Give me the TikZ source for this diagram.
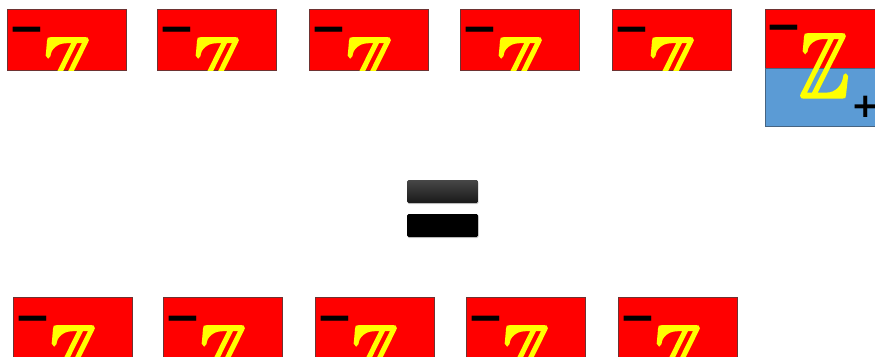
\documentclass[tikz,border=0pt]{standalone}
\usepackage{amssymb}
\usepackage{fontspec}
\setmainfont{DejaVu Sans}
\usetikzlibrary{shadows}
\definecolor{tred}{RGB}{255,0,0}
\definecolor{tyel}{RGB}{255,255,0}
\definecolor{tblue}{RGB}{91,155,213}
\definecolor{tedge}{RGB}{110,50,50}
\definecolor{bedge}{RGB}{70,100,130}
\newcommand{\heavyZ}{\special{pdf:literal direct 2 Tr 0.3 w}$\mathbb{Z}$\special{pdf:literal direct 0 Tr}}
\begin{document}
\begin{tikzpicture}[x=1pt,y=-1pt,
  tile/.style={fill=tred,draw=tedge,line width=0.5pt,minimum width=119pt,minimum height=61pt,anchor=north west,inner sep=0pt,outer sep=0pt},
  zed/.style={text=tyel,inner sep=0pt,anchor=north west},
  minussign/.style={inner sep=0pt,font=\fontsize{44}{44}\selectfont\bfseries},
  plussign/.style={inner sep=0pt,font=\fontsize{34}{34}\selectfont\bfseries},
  eqbar/.style={minimum width=71pt,minimum height=23pt,inner sep=0pt,rounded corners=1.5pt,
     drop shadow={opacity=0.35,shadow xshift=0.6pt,shadow yshift=-1.2pt}}]
\useasboundingbox (0,0) rectangle (875,356);
\clip (0,0) rectangle (875,356);
% top row
\foreach \x/\n in {7/a1,157/a2,309/a3,460/a4,612/a5}{
  \node[tile] (\n) at (\x,9) {};
  \begin{scope}
    \clip (\n.north west) rectangle (\n.south east);
    \node[zed] (\n z) at (\x+35,38) {\resizebox{50pt}{64pt}{\heavyZ}};
  \end{scope}
  \node[minussign] (\n m) at (\x+19.5,35.5) {−};
}
% bottom row
\foreach \x/\n in {13/b1,163/b2,315/b3,466/b4,618/b5}{
  \node[tile] (\n) at (\x,297) {};
  \begin{scope}
    \clip (\n.north west) rectangle (\n.south east);
    \node[zed] (\n z) at (\x+35,326) {\resizebox{50pt}{64pt}{\heavyZ}};
  \end{scope}
  \node[minussign] (\n m) at (\x+19.5,324.5) {−};
}
% sixth tile (red over blue)
\node[tile,minimum width=120pt,minimum height=59pt] (c1) at (765,9) {};
\node[tile,fill=tblue,draw=bedge,minimum width=120pt,minimum height=58pt] (c2) at (765,68) {};
\node[zed] (cz) at (799,34) {\resizebox{50pt}{63pt}{\heavyZ}};
\node[minussign] (cm) at (784,33) {−};
\node[plussign] (cp) at (866,107) {+};
% equals sign
\node[eqbar,top color=black!72,bottom color=black!90] (eq1) at (442.5,191.5) {};
\node[eqbar,fill=black] (eq2) at (442.5,225.5) {};
\end{tikzpicture}
\end{document}
